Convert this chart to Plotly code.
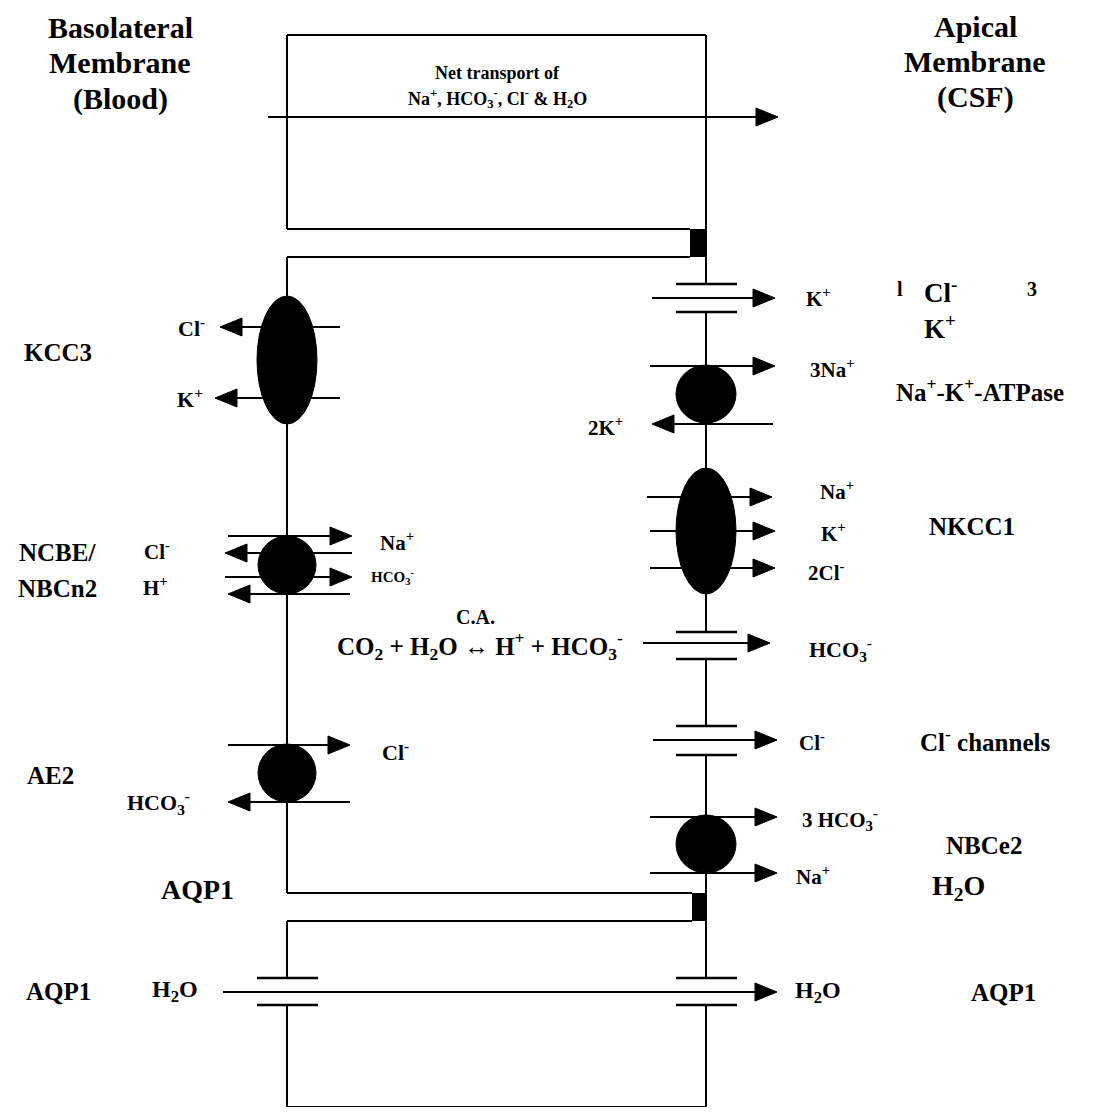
import plotly.graph_objects as go

W, H = 1093, 1115
PAD = 8  # the page body keeps its default 8px margin
FONT = "Liberation Serif, Times New Roman, serif"
BASO_X, API_X = 287, 706

# membrane outline pieces (x0, y0, x1, y1)
outline = [
    (287, 35, 706, 35), (287, 35, 287, 229), (287, 229, 690, 229),
    (287, 257, 690, 257), (287, 257, 287, 893), (287, 893, 692, 893),
    (287, 921, 692, 921), (287, 1107, 706, 1107),
]
# tight junctions (x0, y0, x1, y1)
junctions = [(690, 229, 706, 257), (692, 893, 707, 921)]

# channels: membrane x, top plate y, bottom plate y
channels = [(API_X, 284, 312), (API_X, 632, 659), (API_X, 726, 755),
            (API_X, 978, 1005), (BASO_X, 978, 1005)]

# transporters: membrane x, center y, half width, half height
transporters = [(BASO_X, 360, 30, 64), (API_X, 394, 30, 29), (API_X, 531, 30, 63),
                (BASO_X, 565, 29, 29), (BASO_X, 773, 29, 29), (API_X, 844, 30, 29)]

# arrows: tail x, tip x, y
arrows = [
    (268, 778, 117),
    (340, 220, 327), (340, 215, 398),
    (652, 775, 298),
    (650, 775, 366), (773, 652, 424),
    (647, 772, 497), (650, 775, 531), (650, 775, 568),
    (643, 770, 643),
    (228, 352, 536), (352, 225, 553), (225, 352, 577), (350, 228, 594),
    (228, 350, 745), (350, 228, 802),
    (653, 777, 740),
    (650, 777, 817), (650, 777, 873),
    (223, 777, 992),
]

HCO3 = "HCO<sub>3</sub><sup>-</sup>"
H2O = "H<sub>2</sub>O"
CL = "Cl<sup>-</sup>"
KP = "K<sup>+</sup>"
NAP = "Na<sup>+</sup>"

# labels: text, x, y, size
labels = [
    ("Basolateral", 120, 27, 30), ("Membrane", 120, 62, 30), ("(Blood)", 120, 99, 30),
    ("Apical", 975, 26, 30), ("Membrane", 975, 61, 30), ("(CSF)", 975, 97, 30),
    ("Net transport of", 497, 73, 18),
    (NAP + ", " + HCO3 + ", " + CL + " &amp; " + H2O, 497, 98, 18),
    ("KCC3", 58, 352, 25), (CL, 191, 327, 22), (KP, 190, 398, 22),
    (KP, 818, 297, 21), ("l", 900, 289, 20), (CL, 940, 291, 27),
    ("3", 1032, 289, 20), (KP, 940, 327, 27),
    ("3" + NAP, 832, 368, 21), ("2" + KP, 605, 426, 21),
    (NAP + "-" + KP + "-ATPase", 980, 390, 25),
    (NAP, 837, 490, 21), (KP, 833, 532, 21),
    ("2" + CL, 826, 571, 21), ("NKCC1", 972, 526, 25),
    ("NCBE/", 57, 552, 25), ("NBCn2", 57, 588, 25),
    (CL, 157, 550, 21), ("H<sup>+</sup>", 155, 586, 21),
    (NAP, 397, 541, 21), (HCO3, 392, 577, 15),
    ("C.A.", 475, 617, 20),
    ("CO<sub>2</sub> + " + H2O + " \u2194 H<sup>+</sup> + " + HCO3, 480, 646, 25),
    (HCO3, 840, 649, 22),
    ("AE2", 50, 775, 25), (CL, 395, 751, 22), (HCO3, 158, 802, 22),
    (CL, 812, 741, 21), (CL + " channels", 985, 740, 25),
    ("3 " + HCO3, 840, 819, 21), ("NBCe2", 984, 845, 25),
    (NAP, 813, 875, 21), ("AQP1", 197, 889, 28), (H2O, 958, 887, 28),
    ("AQP1", 58, 991, 25), (H2O, 175, 991, 24), (H2O, 818, 992, 24), ("AQP1", 1003, 992, 25),
]

LW = 2
shapes = []


def line(x0, y0, x1, y1, w=LW):
    shapes.append(dict(type="line", x0=x0, y0=y0, x1=x1, y1=y1,
                       line=dict(color="black", width=w)))


for seg in outline:
    line(*seg)

# vertical membrane pieces, broken at channels
for mx, top, bot in [(API_X, 35, 1107), (BASO_X, 921, 1107)]:
    gaps = sorted((c[1], c[2]) for c in channels if c[0] == mx and top < c[1] < bot)
    y = top
    for g0, g1 in gaps:
        line(mx, y, mx, g0)
        y = g1
    line(mx, y, mx, bot)

for mx, y0, y1 in channels:
    line(mx - 30, y0, mx + 31, y0, 2.5)
    line(mx - 30, y1, mx + 31, y1, 2.5)

for x0, y0, x1, y1 in junctions:
    shapes.append(dict(type="rect", x0=x0, y0=y0, x1=x1, y1=y1,
                       fillcolor="black", line=dict(width=0)))

# arrows: shaft + filled head
HEAD_L, HEAD_W = 22, 9
for xt, xh, y in arrows:
    d = 1 if xh > xt else -1
    base = xh - d * HEAD_L
    line(xt, y, base, y)
    shapes.append(dict(type="path",
                       path=f"M {xh} {y} L {base} {y - HEAD_W} L {base} {y + HEAD_W} Z",
                       fillcolor="black", line=dict(color="black", width=1)))

for mx, cy, rx, ry in transporters:
    shapes.append(dict(type="circle", x0=mx - rx, x1=mx + rx, y0=cy - ry, y1=cy + ry,
                       fillcolor="black", line=dict(color="black", width=1)))

annotations = [dict(text=f"<b>{t}</b>", x=x, y=y, xref="x", yref="y", showarrow=False,
                    xanchor="center", yanchor="middle",
                    font=dict(family=FONT, size=s, color="black"))
               for t, x, y, s in labels]

fig = go.Figure()
fig.update_layout(
    width=W - 2 * PAD, height=H - 2 * PAD, margin=dict(l=0, r=0, t=0, b=0),
    paper_bgcolor="white", plot_bgcolor="white",
    xaxis=dict(range=[PAD, W - PAD], visible=False, fixedrange=True),
    yaxis=dict(range=[H - PAD, PAD], visible=False, fixedrange=True),
    shapes=shapes, annotations=annotations, showlegend=False,
)
fig.write_html("out.html")
